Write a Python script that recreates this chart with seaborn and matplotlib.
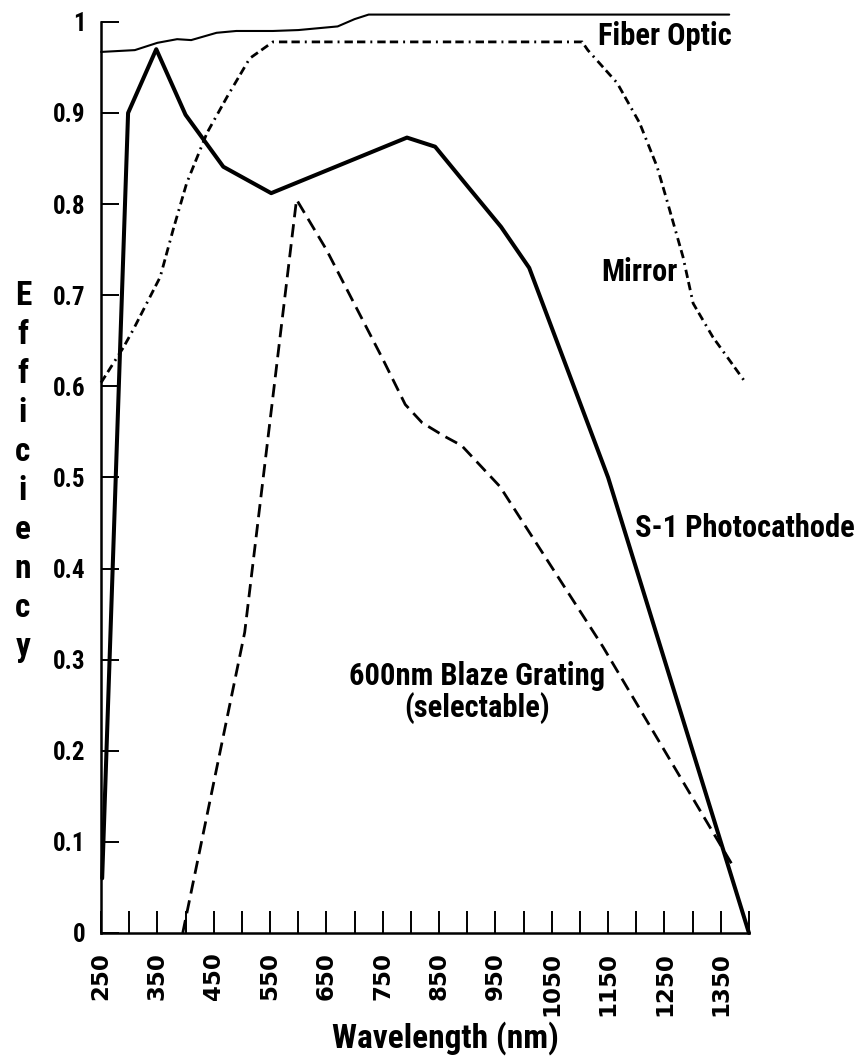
import matplotlib
matplotlib.use("Agg")
import matplotlib.pyplot as plt
from matplotlib.ticker import FixedLocator, FixedFormatter
import seaborn as sns

# Wavelength (nm) / efficiency pairs for each optical component
fiber_x = [250, 310, 350, 385, 410, 455, 490, 555, 600, 670, 700, 725, 1365]
fiber_y = [0.967, 0.969, 0.977, 0.981, 0.980, 0.988, 0.990, 0.990, 0.991, 0.995, 1.003, 1.008, 1.008]

mirror_x = [250, 290, 307, 355, 378, 402, 438, 474, 514, 555, 1104, 1114, 1166, 1206, 1237, 1254, 1283, 1301, 1336, 1393]
mirror_y = [0.604, 0.643, 0.662, 0.720, 0.772, 0.823, 0.878, 0.918, 0.960, 0.978, 0.978, 0.969, 0.933, 0.889, 0.841, 0.805, 0.742, 0.691, 0.654, 0.605]

s1_x = [252, 298, 348, 400, 467, 552, 793, 843, 900, 960, 1010, 1150, 1400]
s1_y = [0.06, 0.90, 0.970, 0.898, 0.841, 0.812, 0.873, 0.863, 0.820, 0.775, 0.730, 0.500, 0.0]

grating_x = [395, 505, 597, 650, 700, 750, 790, 820, 860, 890, 958, 1141, 1375]
grating_y = [0.0, 0.33, 0.805, 0.75, 0.69, 0.63, 0.58, 0.56, 0.545, 0.535, 0.49, 0.314, 0.07]

x_major = [250, 350, 450, 550, 650, 750, 850, 950, 1050, 1150, 1250, 1350]
x_minor = [300, 400, 500, 600, 700, 800, 900, 1000, 1100, 1200, 1300, 1400]
y_ticks = [0, 0.1, 0.2, 0.3, 0.4, 0.5, 0.6, 0.7, 0.8, 0.9, 1.0]
y_labels = ["0", "0.1", "0.2", "0.3", "0.4", "0.5", "0.6", "0.7", "0.8", "0.9", "1"]

sns.set_style("white")
condensed = ["Roboto Condensed", "Open Sans Condensed", "Liberation Sans Narrow",
             "Liberation Sans", "DejaVu Sans"]
plt.rcParams["font.family"] = condensed
plt.rcParams["font.weight"] = "bold"
plt.rcParams["text.color"] = "black"
plt.rcParams["axes.labelcolor"] = "black"
plt.rcParams["xtick.color"] = "black"
plt.rcParams["ytick.color"] = "black"
plt.rcParams["lines.scale_dashes"] = False

fig = plt.figure(figsize=(8.57, 10.59), dpi=100)
ax = fig.add_axes([0.1179, 0.119, 0.756, 0.881])

sns.lineplot(x=fiber_x, y=fiber_y, ax=ax, color="black", lw=1.5, clip_on=False)
sns.lineplot(x=mirror_x, y=mirror_y, ax=ax, color="black", lw=2.0,
             linestyle=(0, (6, 3, 6, 3.6, 1.4, 3.6)), clip_on=False)
sns.lineplot(x=s1_x, y=s1_y, ax=ax, color="black", lw=2.9, clip_on=False)
sns.lineplot(x=grating_x, y=grating_y, ax=ax, color="black", lw=2.0,
             linestyle=(0, (9.5, 5)), clip_on=False)

ax.set_xlim(250, 1400)
ax.set_ylim(0, 1.024)

for side in ("top", "right"):
    ax.spines[side].set_visible(False)
for side in ("left", "bottom"):
    ax.spines[side].set_linewidth(1.8)
    ax.spines[side].set_color("black")
ax.spines["left"].set_bounds(0, 1)

ax.xaxis.set_major_locator(FixedLocator(x_major))
ax.xaxis.set_minor_locator(FixedLocator(x_minor))
ax.xaxis.set_major_formatter(FixedFormatter([str(v) for v in x_major]))
ax.yaxis.set_major_locator(FixedLocator(y_ticks))
ax.yaxis.set_major_formatter(FixedFormatter(y_labels))

ax.tick_params(axis="x", which="both", direction="in", length=16, width=1.4,
               color="black", bottom=True, pad=14)
ax.tick_params(axis="y", which="both", direction="in", length=13, width=1.4,
               color="black", left=True, pad=11)
for lab in ax.get_xticklabels():
    lab.set_rotation(90)
    lab.set_family("DejaVu Sans")
    lab.set_fontweight("bold")
    lab.set_fontsize(16.5)
for lab in ax.get_yticklabels():
    lab.set_fontsize(18)
    lab.set_fontweight("bold")

ax.set_xlabel("Wavelength (nm)", fontsize=24, fontweight="bold")
ax.xaxis.label.set_va("baseline")
ax.xaxis.set_label_coords(0.532, -0.123)

fig.text(23 / 857, 0.555, "E\nf\nf\ni\nc\ni\ne\nn\nc\ny", ha="center", va="center",
         fontsize=24, fontweight="bold", linespacing=1.28)

lab_kw = dict(fontsize=22, fontweight="bold", color="black")
ax.text(1132, 0.975, "Fiber Optic", ha="left", va="baseline", **lab_kw)
ax.text(1274, 0.716, "Mirror", ha="right", va="baseline", **lab_kw)
ax.text(1198, 0.435, "S-1 Photocathode", ha="left", va="baseline", **lab_kw)
ax.text(917, 0.272, "600nm Blaze Grating", ha="center", va="baseline", **lab_kw)
ax.text(917, 0.237, "(selectable)", ha="center", va="baseline", **lab_kw)

fig.savefig("out.png", dpi=100, facecolor="white")
